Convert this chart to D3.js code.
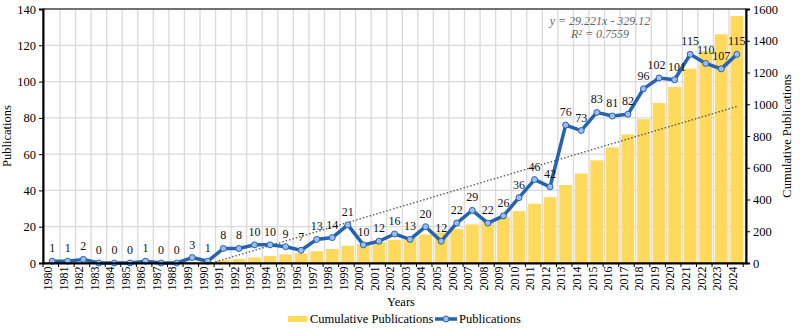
<!DOCTYPE html>
<html>
<head>
<meta charset="utf-8">
<script src="https://cdn.jsdelivr.net/npm/d3@7"></script>
<style>
  body { margin: 0; background: #fff; }
  svg text { font-family: "Times New Roman", "Liberation Serif", "DejaVu Serif", serif !important; }
</style>
</head>
<body>
<script>
const width = 800;
const height = 328;
const margin = { top: 9, right: 54, bottom: 65, left: 43 };

const years = d3.range(1980, 2025).map(String);
const publications = [1, 1, 2, 0, 0, 0, 1, 0, 0, 3, 1, 8, 8, 10, 10, 9, 7, 13, 14, 21,
    10, 12, 16, 13, 20, 12, 22, 29, 22, 26, 36, 46, 42, 76, 73, 83, 81, 82, 96, 102,
    101, 115, 110, 107, 115];
const leftTicks = [0, 20, 40, 60, 80, 100, 120, 140];
const rightTicks = [0, 200, 400, 600, 800, 1000, 1200, 1400, 1600];
const trendSlope = 29.221;
const trendIntercept = -329.12;

// running total for the bars
let run = 0;
const cumulative = publications.map(v => (run += v));

const svg = d3.select("body").append("svg")
    .attr("width", width)
    .attr("height", height);

const innerW = width - margin.left - margin.right;
const innerH = height - margin.top - margin.bottom;
const g = svg.append("g").attr("transform", `translate(${margin.left},${margin.top})`);

const x = d3.scaleBand().domain(years).range([0, innerW]).padding(0.18);
const step = x.step();
const yL = d3.scaleLinear().domain([0, 140]).range([innerH, 0]);
const yR = d3.scaleLinear().domain([0, 1600]).range([innerH, 0]);

// gridlines
g.append("g").selectAll("line.h")
    .data(leftTicks)
    .enter().append("line")
    .attr("x1", 0).attr("x2", innerW)
    .attr("y1", d => yL(d)).attr("y2", d => yL(d))
    .attr("stroke", "#d9d9d9").attr("stroke-width", 1.3);

g.append("g").selectAll("line.v")
    .data(years.slice(1))
    .enter().append("line")
    .attr("x1", d => x(d) - x.paddingInner() * step / 2)
    .attr("x2", d => x(d) - x.paddingInner() * step / 2)
    .attr("y1", 0).attr("y2", innerH)
    .attr("stroke", "#d9d9d9").attr("stroke-width", 1.3);

// cumulative bars
g.append("g").selectAll("rect")
    .data(years)
    .enter().append("rect")
    .attr("x", d => x(d))
    .attr("width", x.bandwidth())
    .attr("y", (d, i) => yR(cumulative[i]))
    .attr("height", (d, i) => innerH - yR(cumulative[i]))
    .attr("fill", "#ffd95c");

// linear trendline on the cumulative series (x = 1..45), drawn where y >= 0
const xIdx = d3.scaleLinear().domain([1, years.length])
    .range([x(years[0]) + x.bandwidth() / 2, x(years[years.length - 1]) + x.bandwidth() / 2]);
const xStart = -trendIntercept / trendSlope;
const xEnd = years.length;
g.append("line")
    .attr("x1", xIdx(xStart)).attr("y1", yR(0))
    .attr("x2", xIdx(xEnd)).attr("y2", yR(trendSlope * xEnd + trendIntercept))
    .attr("stroke", "#404040").attr("stroke-width", 1.2)
    .attr("stroke-dasharray", "1.5,2");

// publications line
const line = d3.line()
    .x((d, i) => x(years[i]) + x.bandwidth() / 2)
    .y(d => yL(d));

g.append("path")
    .datum(publications)
    .attr("d", line)
    .attr("fill", "none")
    .attr("stroke", "#2563b0")
    .attr("stroke-width", 3.5)
    .attr("stroke-linejoin", "round");

g.append("g").selectAll("circle")
    .data(publications)
    .enter().append("circle")
    .attr("cx", (d, i) => x(years[i]) + x.bandwidth() / 2)
    .attr("cy", d => yL(d))
    .attr("r", 3)
    .attr("fill", "#9dbdf0")
    .attr("stroke", "#2563b0")
    .attr("stroke-width", 1);

// small nudges so that crowded labels (2019/2020) don't collide
const labelNudge = { "2019": -2.5, "2020": 2.5 };
g.append("g").selectAll("text")
    .data(publications)
    .enter().append("text")
    .attr("x", (d, i) => x(years[i]) + x.bandwidth() / 2 + (labelNudge[years[i]] || 0))
    .attr("y", d => yL(d) - 9)
    .attr("text-anchor", "middle")
    .attr("font-size", 12)
    .attr("fill", "#111")
    .text(d => d);

// frame
g.append("rect")
    .attr("width", innerW).attr("height", innerH)
    .attr("fill", "none").attr("stroke", "#000").attr("stroke-width", 1);

// axes
const leftAxis = g.append("g")
    .call(d3.axisLeft(yL).tickValues(leftTicks).tickSize(4).tickPadding(3));
const rightAxis = g.append("g")
    .attr("transform", `translate(${innerW},0)`)
    .call(d3.axisRight(yR).tickValues(rightTicks).tickFormat(d3.format("d")).tickSize(4).tickPadding(3));
[leftAxis, rightAxis].forEach(a => {
    a.attr("font-size", 12.5);
    a.select(".domain").attr("stroke", "#000").attr("stroke-width", 2);
    a.selectAll("text").attr("fill", "#000");
});

const bottomAxis = g.append("g")
    .attr("transform", `translate(0,${innerH})`)
    .call(d3.axisBottom(x).tickSize(0).tickPadding(4));
bottomAxis.attr("font-size", 12);
bottomAxis.select(".domain").attr("stroke", "#000").attr("stroke-width", 2);
bottomAxis.selectAll("text")
    .attr("fill", "#000")
    .attr("transform", "rotate(-90)")
    .attr("text-anchor", "end")
    .attr("dx", "-0.3em")
    .attr("dy", "-0.35em");
// ticks at category boundaries
bottomAxis.append("g").selectAll("line")
    .data(d3.range(years.length + 1))
    .enter().append("line")
    .attr("x1", i => i * step).attr("x2", i => i * step)
    .attr("y1", 0).attr("y2", 4)
    .attr("stroke", "#000");

// trendline equation
g.append("text")
    .attr("x", 557).attr("y", 16)
    .attr("text-anchor", "middle")
    .attr("font-size", 12).attr("font-style", "italic").attr("fill", "#666")
    .text("y = 29.221x - 329.12");
g.append("text")
    .attr("x", 557).attr("y", 29)
    .attr("text-anchor", "middle")
    .attr("font-size", 12).attr("font-style", "italic").attr("fill", "#666")
    .text("R² = 0.7559");

// axis titles
svg.append("text")
    .attr("transform", `translate(11,${margin.top + innerH / 2}) rotate(-90)`)
    .attr("text-anchor", "middle")
    .attr("font-size", 12.5)
    .text("Publications");
svg.append("text")
    .attr("transform", `translate(791,${margin.top + innerH / 2}) rotate(-90)`)
    .attr("text-anchor", "middle")
    .attr("font-size", 12.5)
    .text("Cumulative Publications");
svg.append("text")
    .attr("x", 401).attr("y", 306)
    .attr("text-anchor", "middle")
    .attr("font-size", 12.5)
    .text("Years");

// legend
const legend = svg.append("g");
legend.append("rect")
    .attr("x", 288).attr("y", 316).attr("width", 19).attr("height", 6)
    .attr("fill", "#ffd95c");
legend.append("text")
    .attr("x", 310).attr("y", 323)
    .attr("font-size", 12.5)
    .text("Cumulative Publications");
legend.append("line")
    .attr("x1", 435).attr("x2", 457).attr("y1", 319).attr("y2", 319)
    .attr("stroke", "#2563b0").attr("stroke-width", 3.5);
legend.append("circle")
    .attr("cx", 446).attr("cy", 319).attr("r", 3)
    .attr("fill", "#9dbdf0").attr("stroke", "#2563b0");
legend.append("text")
    .attr("x", 459).attr("y", 323)
    .attr("font-size", 12.5)
    .text("Publications");
</script>
</body>
</html>
